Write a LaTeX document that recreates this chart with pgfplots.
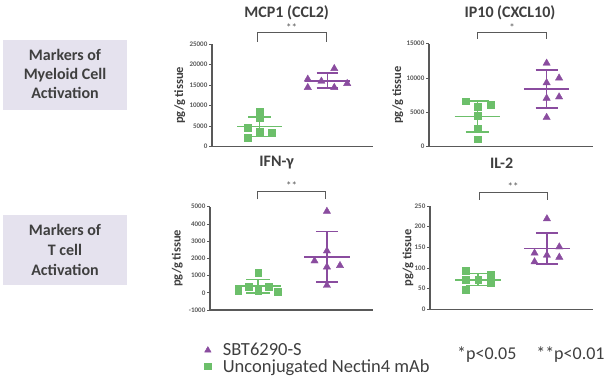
\documentclass[border=0pt]{standalone}
\usepackage{fontspec}
\setmainfont{Carlito}
\usepackage{pgfplots}
\pgfplotsset{compat=1.18}
\definecolor{grn}{HTML}{6CBF6A}
\definecolor{prp}{HTML}{8A4C9F}
\definecolor{axg}{HTML}{595959}
\definecolor{boxc}{HTML}{E5E2EE}
\definecolor{txt}{HTML}{3F3F3F}
\pgfplotsset{
  panel/.style={
    scale only axis, clip=false,
    axis x line*=bottom, axis y line*=left,
    axis line style={axg, line width=1.4pt},
    xmin=0.3, xmax=2.67, xtick=\empty,
    ytick style={axg, line width=0.8pt},
    tick align=outside, major tick length=3pt,
    yticklabel style={font=\fontsize{7}{8}\selectfont\bfseries, text=axg, inner sep=1.5pt},
    /pgf/number format/1000 sep={},
    /pgf/number format/assume math mode=true,
    scaled y ticks=false,
    ylabel={pg/g tissue},
    ylabel style={font=\fontsize{12.5}{14}\selectfont\bfseries, text=txt, anchor=center},
  },
  gpts/.style={only marks, mark=square*, mark size=3.4pt, color=grn},
  ppts/.style={only marks, mark=triangle*, mark size=4.2pt, color=prp},
  gln/.style={grn, line width=1.6pt, mark=none},
  pln/.style={prp, line width=1.6pt, mark=none},
}
\begin{document}
\begin{tikzpicture}
\path[use as bounding box] (0pt,0pt) rectangle (605pt,383pt);
% category boxes
\fill[boxc] (3pt,273pt) rectangle (127pt,343pt);
\node[align=center, text=txt, font=\fontsize{16}{19}\selectfont\bfseries] at (65pt,309pt) {Markers of\\Myeloid Cell\\Activation};
\fill[boxc] (3pt,98pt) rectangle (127pt,168pt);
\node[align=center, text=txt, font=\fontsize{16}{20}\selectfont\bfseries] at (65pt,133pt) {Markers of\\T cell\\Activation};

% MCP1
\begin{axis}[panel, at={(212pt,236.3pt)}, anchor=south west, width=161pt, height=102.6pt,
  ymin=0, ymax=25000, ytick={0,5000,10000,15000,20000,25000},
  ylabel style={at={(axis description cs:-0.2,0.5)}}]
\addplot[gpts] coordinates {(1,8670) (1,7130) (0.83,4620) (1,3570) (1.18,3320) (0.83,2100)};
\addplot[ppts] coordinates {(2.10,19040) (1.71,16450) (1.91,15960) (2.29,15400) (1.71,14430) (2.10,14430)};
\addplot[gln] coordinates {(0.67,4900) (1.33,4900)};
\addplot[gln] coordinates {(1,2510) (1,7290)};
\addplot[gln] coordinates {(0.83,7290) (1.17,7290)};
\addplot[gln] coordinates {(0.83,2510) (1.17,2510)};
\addplot[pln] coordinates {(1.67,15950) (2.33,15950)};
\addplot[pln] coordinates {(2,14300) (2,17900)};
\addplot[pln] coordinates {(1.84,17900) (2.16,17900)};
\addplot[pln] coordinates {(1.84,14300) (2.16,14300)};
\end{axis}

% IP10
\begin{axis}[panel, at={(429pt,236.3pt)}, anchor=south west, width=164pt, height=103pt,
  ymin=0, ymax=15000, ytick={0,5000,10000,15000},
  ylabel style={at={(axis description cs:-0.19,0.5)}}]
\addplot[gpts] coordinates {(0.83,6620) (1,5880) (1.19,6080) (1,4460) (1,2600) (1,1080)};
\addplot[ppts] coordinates {(2,12160) (2,9310) (2.18,10000) (2.18,7250) (2,7060) (2,4260)};
\addplot[gln] coordinates {(0.67,4410) (1.33,4410)};
\addplot[gln] coordinates {(1,2160) (1,6620)};
\addplot[gln] coordinates {(0.83,6620) (1.17,6620)};
\addplot[gln] coordinates {(0.83,2160) (1.17,2160)};
\addplot[pln] coordinates {(1.67,8400) (2.33,8400)};
\addplot[pln] coordinates {(2,5640) (2,11130)};
\addplot[pln] coordinates {(1.84,11130) (2.16,11130)};
\addplot[pln] coordinates {(1.84,5640) (2.16,5640)};
\end{axis}

% IFN-gamma
\begin{axis}[panel, at={(210pt,73pt)}, anchor=south west, width=163pt, height=103.3pt,
  ymin=-1000, ymax=5000, ytick={-1000,0,1000,2000,3000,4000,5000},
  ylabel style={at={(axis description cs:-0.2,0.5)}},
  legend style={draw=none, fill=none, at={(axis description cs:-0.045,-0.31)}, anchor=north west,
    font=\fontsize{18.5}{19}\selectfont, text=txt, row sep=0pt, inner sep=0pt,
    nodes={inner xsep=0pt, inner ysep=1pt}},
  legend image code/.code={\path[draw=none, fill=none] (-5pt,0pt) -- (15pt,0pt); \draw[#1] plot coordinates {(0pt,0pt)};},
  legend cell align=left]
\addlegendimage{prp, only marks, mark=triangle*, mark size=3.7pt}
\addlegendentry{SBT6290-S}
\addlegendimage{grn, only marks, mark=square*, mark size=3.3pt}
\addlegendentry{Unconjugated Nectin4 mAb}
\addplot[gpts] coordinates {(1,1150) (0.86,370) (1.15,370) (0.71,120) (1,140) (1.29,60)};
\addplot[ppts] coordinates {(2,4730) (2,2430) (1.82,1850) (2.19,1580) (2,1500) (2,430)};
\addplot[gln] coordinates {(0.67,390) (1.33,390)};
\addplot[gln] coordinates {(1,0) (1,780)};
\addplot[gln] coordinates {(0.83,780) (1.17,780)};
\addplot[gln] coordinates {(0.83,0) (1.17,0)};
\addplot[pln] coordinates {(1.67,2090) (2.33,2090)};
\addplot[pln] coordinates {(2,640) (2,3560)};
\addplot[pln] coordinates {(1.84,3560) (2.16,3560)};
\addplot[pln] coordinates {(1.84,640) (2.16,640)};
\end{axis}

% IL-2
\begin{axis}[panel, at={(430pt,73.7pt)}, anchor=south west, width=163pt, height=103.3pt,
  ymin=0, ymax=250, ytick={0,50,100,150,200,250},
  ylabel style={at={(axis description cs:-0.135,0.5)}}]
\addplot[gpts] coordinates {(0.82,93) (1.18,83) (1,71) (0.82,71) (1.18,63) (0.82,48)};
\addplot[ppts] coordinates {(2,219) (1.82,136) (2.18,151) (2,131) (2.18,126) (1.82,115)};
\addplot[gln] coordinates {(0.67,71) (1.33,71)};
\addplot[gln] coordinates {(1,58) (1,87)};
\addplot[gln] coordinates {(0.83,87) (1.17,87)};
\addplot[gln] coordinates {(0.83,58) (1.17,58)};
\addplot[pln] coordinates {(1.67,147) (2.33,147)};
\addplot[pln] coordinates {(2,109) (2,185)};
\addplot[pln] coordinates {(1.84,185) (2.16,185)};
\addplot[pln] coordinates {(1.84,109) (2.16,109)};
\end{axis}

% titles
\node[font=\fontsize{16}{18}\selectfont\bfseries, text=txt] at (286.7pt,370pt) {MCP1 (CCL2)};
\node[font=\fontsize{16}{18}\selectfont\bfseries, text=txt] at (510pt,370pt) {IP10 (CXCL10)};
\node[font=\fontsize{16}{18}\selectfont\bfseries, text=txt] at (276.7pt,220pt) {IFN-γ};
\node[font=\fontsize{16}{18}\selectfont\bfseries, text=txt] at (501.7pt,220pt) {IL-2};

% significance brackets
\draw[axg, line width=1pt] (257pt,341pt) -- (257pt,350pt) -- (326pt,350pt) -- (326pt,341pt);
\node[font=\fontsize{11}{12}\selectfont, text=axg] at (291.5pt,355pt) {**};
\draw[axg, line width=1pt] (477.7pt,344pt) -- (477.7pt,350pt) -- (546.7pt,350pt) -- (546.7pt,344pt);
\node[font=\fontsize{11}{12}\selectfont, text=axg] at (512.2pt,355pt) {*};
\draw[axg, line width=1pt] (257.3pt,183.7pt) -- (257.3pt,191.3pt) -- (325.7pt,191.3pt) -- (325.7pt,183.7pt);
\node[font=\fontsize{11}{12}\selectfont, text=axg] at (291.5pt,197pt) {**};
\draw[axg, line width=1pt] (479pt,183pt) -- (479pt,190.7pt) -- (547.3pt,190.7pt) -- (547.3pt,183pt);
\node[font=\fontsize{11}{12}\selectfont, text=axg] at (513.2pt,196pt) {**};

% p-value note
\node[font=\fontsize{18}{19}\selectfont, text=txt, anchor=west, inner sep=0pt] at (457pt,28pt) {*p<0.05\hspace{1.1em}**p<0.01};
\end{tikzpicture}
\end{document}
